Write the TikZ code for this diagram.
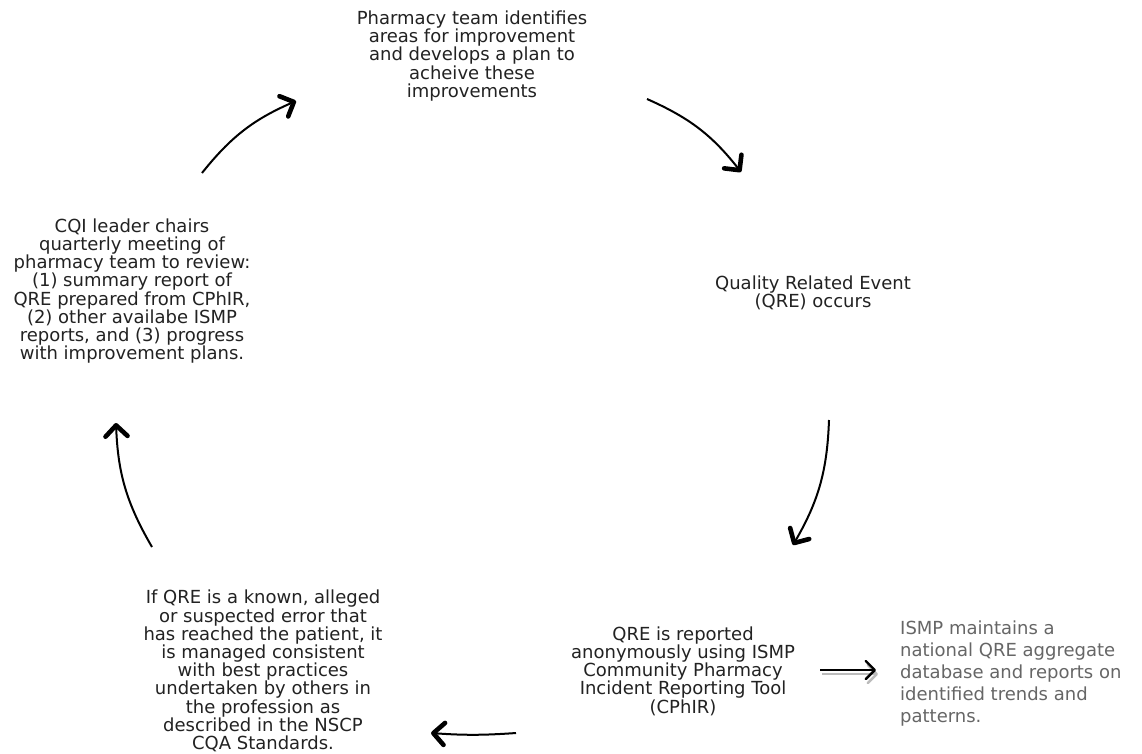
\documentclass[tikz,border=0pt]{standalone}
\usepackage{fontspec}
\setmainfont{DejaVu Sans}
\usetikzlibrary{arrows.meta}
\definecolor{txt}{HTML}{222222}
\definecolor{graytxt}{HTML}{666666}
\definecolor{shadowc}{HTML}{BBBBBB}
\tikzset{
  lbl/.style={align=center, text=txt, font=\fontsize{18}{18.2}\selectfont, inner sep=0pt},
  graylbl/.style={align=left, text=graytxt, font=\fontsize{18}{22}\selectfont, inner sep=0pt, anchor=west},
  cyc/.style={line width=2pt, draw=black,
    -{Straight Barb[length=11pt,width=22pt,line width=4.6pt,round]}},
  side/.style={line width=2pt, draw=black,
    -{Straight Barb[length=9pt,width=18pt,line width=2.4pt,round]}},
  sideshadow/.style={line width=2pt, draw=shadowc,
    -{Straight Barb[length=9pt,width=18pt,line width=2.4pt,round]}}
}
\begin{document}
\begin{tikzpicture}[x=1pt,y=-1pt]
\useasboundingbox (0,0) rectangle (1142,753);
\fill[white] (0,0) rectangle (1142,753);

\node[lbl] (plan) at (472,56) {Pharmacy team identifies\\areas for improvement\\and develops a plan to\\acheive these\\improvements};
\node[lbl] (qre) at (813,293) {Quality Related Event\\(QRE) occurs};
\node[lbl] (report) at (683,671) {QRE is reported\\anonymously using ISMP\\Community Pharmacy\\Incident Reporting Tool\\(CPhIR)};
\node[graylbl] (ismp) at (900,674) {ISMP maintains a\\national QRE aggregate\\database and reports on\\identified trends and\\patterns.};
\node[lbl] (manage) at (263,671) {If QRE is a known, alleged\\or suspected error that\\has reached the patient, it\\is managed consistent\\with best practices\\undertaken by others in\\the profession as\\described in the NSCP\\CQA Standards.};
\node[lbl] (cqi) at (132,291) {CQI leader chairs\\quarterly meeting of\\pharmacy team to review:\\(1) summary report of\\QRE prepared from CPhIR,\\(2) other availabe ISMP\\reports, and (3) progress\\with improvement plans.};

\coordinate (a1s) at (202,173); \coordinate (a1e) at (296,101);
\coordinate (a2s) at (647,99);  \coordinate (a2e) at (741,172);
\coordinate (a3s) at (829,420); \coordinate (a3e) at (793,545);
\coordinate (a4s) at (516,733); \coordinate (a4e) at (431,733);
\coordinate (a5s) at (152,547); \coordinate (a5e) at (116,423);
\coordinate (a6s) at (820,670); \coordinate (a6e) at (876,670);
\coordinate (a6ss) at (822,674); \coordinate (a6se) at (878,674);

\draw[cyc] (a1s) to[bend left=14] (a1e);
\draw[cyc] (a2s) to[bend left=14] (a2e);
\draw[cyc] (a3s) to[bend left=14] (a3e);
\draw[cyc] (a4s) to[bend left=4] (a4e);
\draw[cyc] (a5s) to[bend left=14] (a5e);
\draw[sideshadow] (a6ss) -- (a6se);
\draw[side] (a6s) -- (a6e);
\end{tikzpicture}
\end{document}
